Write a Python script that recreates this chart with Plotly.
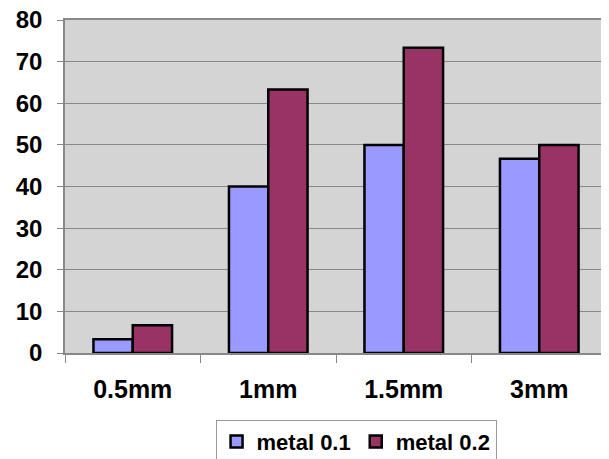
import plotly.graph_objects as go

categories = ["0.5mm", "1mm", "1.5mm", "3mm"]
metal_01 = [3.33, 40, 50, 46.67]
metal_02 = [6.67, 63.33, 73.33, 50]
y_ticks = [0, 10, 20, 30, 40, 50, 60, 70, 80]

font_family = "Liberation Sans, Arial, sans-serif"

fig = go.Figure()
fig.add_trace(go.Bar(name="metal 0.1", x=categories, y=metal_01,
                     marker=dict(color="#9999FF", line=dict(color="black", width=2.5))))
fig.add_trace(go.Bar(name="metal 0.2", x=categories, y=metal_02,
                     marker=dict(color="#993366", line=dict(color="black", width=2.5))))

# page body has an 8px default margin, so the figure is sized/offset to compensate
fig.update_layout(
    width=601, height=451,
    margin=dict(l=57, r=2, t=12, b=106, autoexpand=False),
    paper_bgcolor="white",
    plot_bgcolor="#D4D4D4",
    barmode="group",
    bargap=0.42,
    bargroupgap=0,
    font=dict(family=font_family, color="black"),
    showlegend=True,
    legend=dict(
        orientation="h",
        x=0.537, xanchor="center",
        y=-0.2, yanchor="top",
        bordercolor="#999999", borderwidth=1,
        font=dict(size=22, family=font_family, weight="bold"),
        itemwidth=30,
        tracegroupgap=0,
    ),
)
fig.update_xaxes(
    type="category",
    showline=True, linecolor="#888888", linewidth=1.5, mirror=True,
    ticks="outside", tickson="boundaries", ticklen=8, tickcolor="#888888",
    tickfont=dict(size=25, family=font_family, weight="bold"),
    ticklabelstandoff=13,
    showgrid=False,
)
fig.update_yaxes(
    range=[0, 80],
    tickvals=y_ticks,
    showline=True, linecolor="#888888", linewidth=1.5, mirror=True,
    ticks="outside", ticklen=6, tickcolor="#888888",
    gridcolor="#888888", gridwidth=1.2,
    tickfont=dict(size=24, family=font_family, weight="bold"),
    ticklabelstandoff=10,
    ticklabeloverflow="allow",
    zeroline=False,
)

fig.write_html("out.html")
